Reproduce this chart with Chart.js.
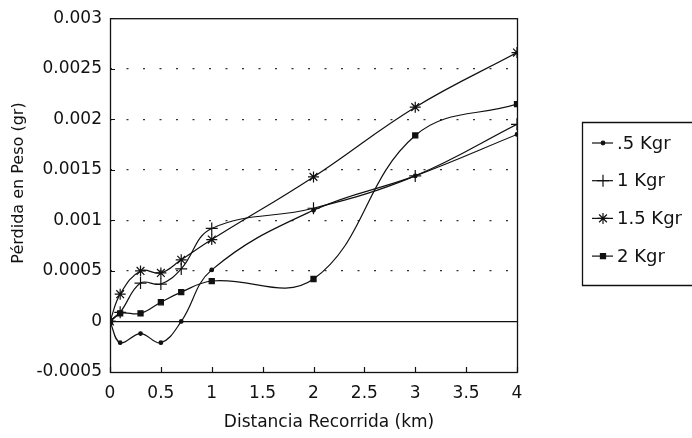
<!DOCTYPE html>
<html>
<head>
<meta charset="utf-8">
<script src="https://cdn.jsdelivr.net/npm/chart.js@4/dist/chart.umd.min.js"></script>
<style>
  html, body { margin: 0; padding: 0; background: #fff; }
  #wrap { width: 692px; height: 438px; }
</style>
</head>
<body>
<div id="wrap"><canvas id="chart" width="692" height="438"></canvas></div>
<script>
// ── Data ──────────────────────────────────────────────────
const distances = [0, 0.1, 0.3, 0.5, 0.7, 1, 2, 3, 4];
const loss05 = [0, -0.00021, -0.00012, -0.00021, 0.0, 0.00051, 0.00110, 0.00144, 0.00185];
const loss1  = [0, 0.00009, 0.00038, 0.00037, 0.00052, 0.00092, 0.00112, 0.00144, 0.00195];
const loss15 = [0, 0.00027, 0.00050, 0.00048, 0.00061, 0.00081, 0.00143, 0.00212, 0.00266];
const loss2  = [0, 0.00008, 0.00008, 0.00019, 0.00029, 0.00040, 0.00042, 0.00184, 0.00215];
const seriesLabels = ['.5 Kgr', '1 Kgr', '1.5 Kgr', '2 Kgr'];

const xTicks      = [0, 0.5, 1, 1.5, 2, 2.5, 3, 3.5, 4];
const xTickLabels = ['0', '0.5', '1', '1.5', '2', '2.5', '3', '3.5', '4'];
const yTicks      = [-0.0005, 0, 0.0005, 0.001, 0.0015, 0.002, 0.0025, 0.003];
const yTickLabels = ['-0.0005', '0', '0.0005', '0.001', '0.0015', '0.002', '0.0025', '0.003'];

const xTitle = 'Distancia Recorrida (km)';
const yTitle = 'Pérdida en Peso (gr)';

// ── Styles ────────────────────────────────────────────────
const INK = '#111';
const FONT = 'DejaVu Sans';
Chart.defaults.font.family = FONT;
Chart.defaults.color = INK;

const markers = [
  { pointStyle: 'circle', pointRadius: 1.8, pointBackgroundColor: INK },
  { pointStyle: 'cross',  pointRadius: 6,   pointBackgroundColor: INK },
  { pointStyle: 'star',   pointRadius: 5.5, pointBackgroundColor: INK },
  { pointStyle: 'rect',   pointRadius: 3.6, pointBackgroundColor: INK }
];

function series(values, i) {
  return {
    label: seriesLabels[i],
    data: distances.map((x, k) => ({ x, y: values[k] })),
    borderColor: INK,
    borderWidth: 1.2,
    pointBorderColor: INK,
    pointBorderWidth: 1.2,
    tension: 0.4,
    fill: false,
    ...markers[i]
  };
}

// ── Frame, inner ticks, axis titles and legend ────────────
const decorations = {
  id: 'decorations',
  afterDraw(chart) {
    const { ctx, chartArea: a, scales } = chart;
    ctx.save();
    ctx.strokeStyle = INK;
    ctx.lineWidth = 1.3;
    ctx.strokeRect(a.left + 0.5, a.top + 0.5, a.right - a.left, a.bottom - a.top);

    // short ticks pointing into the plot
    ctx.lineWidth = 1.2;
    ctx.beginPath();
    xTicks.forEach(v => {
      const x = Math.round(scales.x.getPixelForValue(v)) + 0.5;
      ctx.moveTo(x, a.bottom);
      ctx.lineTo(x, a.bottom - 5);
    });
    yTicks.forEach(v => {
      const y = Math.round(scales.y.getPixelForValue(v)) + 0.5;
      ctx.moveTo(a.left, y);
      ctx.lineTo(a.left + 5, y);
    });
    ctx.stroke();

    // axis titles
    ctx.fillStyle = INK;
    ctx.textAlign = 'center';
    ctx.textBaseline = 'middle';
    ctx.font = `17px "${FONT}"`;
    ctx.fillText(xTitle, 329, 423);
    ctx.save();
    ctx.translate(19, 183);
    ctx.rotate(-Math.PI / 2);
    ctx.font = `16px "${FONT}"`;
    ctx.fillText(yTitle, 0, 0);
    ctx.restore();

    // legend box (right side runs off the canvas)
    const box = { left: 582.5, top: 122.5, bottom: 285.5 };
    ctx.lineWidth = 1.3;
    ctx.beginPath();
    ctx.moveTo(700, box.top);
    ctx.lineTo(box.left, box.top);
    ctx.lineTo(box.left, box.bottom);
    ctx.lineTo(700, box.bottom);
    ctx.stroke();

    ctx.font = `18px "${FONT}"`;
    ctx.textAlign = 'left';
    chart.data.datasets.forEach((ds, i) => {
      const y = 143 + i * 37.7;
      ctx.lineWidth = 1.2;
      ctx.beginPath();
      ctx.moveTo(592, y);
      ctx.lineTo(613, y);
      ctx.stroke();
      ctx.fillStyle = INK;
      Chart.helpers.drawPoint(ctx, {
        pointStyle: ds.pointStyle,
        radius: ds.pointRadius,
        borderWidth: 1.2,
        rotation: 0
      }, 603, y);
      ctx.fillText(ds.label, 617, y + 1);
    });
    ctx.restore();
  }
};

// ── Chart ─────────────────────────────────────────────────
new Chart(document.getElementById('chart'), {
  type: 'line',
  data: {
    datasets: [loss05, loss1, loss15, loss2].map(series)
  },
  options: {
    responsive: false,
    animation: false,
    layout: { padding: { top: 13, right: 175, left: 0, bottom: 0 } },
    plugins: {
      legend: { display: false },
      tooltip: { enabled: false }
    },
    scales: {
      x: {
        type: 'linear',
        min: 0,
        max: 4,
        afterBuildTicks: s => { s.ticks = xTicks.map(value => ({ value })); },
        afterFit: s => { s.height = 66; },
        ticks: {
          callback: (v, i) => xTickLabels[i],
          font: { size: 17 },
          padding: 11,
          maxRotation: 0,
          autoSkip: false
        },
        grid: { display: false, drawTicks: false },
        border: { display: false }
      },
      y: {
        type: 'linear',
        min: -0.0005,
        max: 0.003,
        afterBuildTicks: s => { s.ticks = yTicks.map(value => ({ value })); },
        afterFit: s => { s.width = 110; },
        ticks: {
          callback: (v, i) => yTickLabels[i],
          font: { size: 17 },
          padding: 8,
          autoSkip: false
        },
        grid: {
          drawTicks: false,
          lineWidth: 1.2,
          // zero line solid, edges left to the frame, the rest dotted
          color: c => (c.index === 0 || c.index === yTicks.length - 1) ? 'transparent'
                     : c.index === 1 ? INK : '#333'
        },
        border: {
          display: false,
          dash: c => c.index === 1 ? [] : [2, 14.5]
        }
      }
    }
  },
  plugins: [decorations]
});
</script>
</body>
</html>
